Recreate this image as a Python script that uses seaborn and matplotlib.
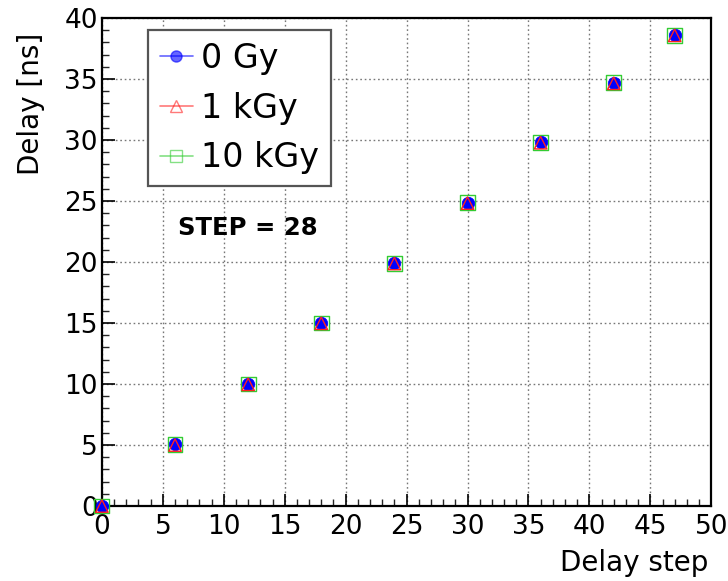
import matplotlib
matplotlib.use("Agg")
import matplotlib.pyplot as plt
from matplotlib.lines import Line2D
from matplotlib.ticker import MultipleLocator
import pandas as pd
import seaborn as sns

# Measured delay versus programmed delay step for three irradiation doses
delay_step = [0, 6, 12, 18, 24, 30, 36, 42, 47]
delay_0gy = [0.0, 5.05, 10.0, 15.0, 19.9, 24.85, 29.8, 34.7, 38.6]
delay_1kgy = [0.0, 5.0, 9.98, 14.98, 19.88, 24.83, 29.78, 34.65, 38.58]
delay_10kgy = [0.0, 5.05, 10.0, 15.0, 19.9, 24.85, 29.8, 34.7, 38.6]
dose_labels = ["0 Gy", "1 kGy", "10 kGy"]

df = pd.concat([
    pd.DataFrame({"step": delay_step, "delay": d, "dose": lab})
    for d, lab in zip([delay_0gy, delay_1kgy, delay_10kgy], dose_labels)
])

sns.set_theme(style="white")
plt.rcParams["font.family"] = ["DejaVu Sans"]
plt.rcParams["text.color"] = "black"

fig = plt.figure(figsize=(7.28, 5.81), dpi=100)
ax = fig.add_axes([0.140, 0.129, 0.837, 0.840])

styles = {
    "10 kGy": dict(color="#33cc33", marker="s", s=115, facecolor="none", lw=1.0, z=3),
    "0 Gy": dict(color="#0000ff", marker="o", s=80, facecolor="#0000ff", lw=0.5, z=4),
    "1 kGy": dict(color="#ff2020", marker="^", s=80, facecolor="none", lw=1.0, z=5),
}
for lab in ["10 kGy", "0 Gy", "1 kGy"]:
    st = styles[lab]
    sns.scatterplot(data=df[df["dose"] == lab], x="step", y="delay", ax=ax,
                    marker=st["marker"], s=st["s"], facecolor=st["facecolor"],
                    edgecolor=st["color"], linewidth=st["lw"], zorder=st["z"],
                    legend=False, clip_on=False)

ax.set_xlim(0, 50)
ax.set_ylim(0, 40)
ax.xaxis.set_major_locator(MultipleLocator(5))
ax.xaxis.set_minor_locator(MultipleLocator(1))
ax.yaxis.set_major_locator(MultipleLocator(5))
ax.yaxis.set_minor_locator(MultipleLocator(1))
ax.tick_params(axis="both", which="major", direction="in", length=9, width=1.2,
               labelsize=19, colors="black", bottom=True, left=True)
ax.tick_params(axis="x", which="major", pad=6)
ax.tick_params(axis="y", which="major", pad=3)
ax.tick_params(axis="both", which="minor", direction="in", length=5, width=1.0,
               bottom=True, left=True)
ax.grid(True, which="major", linestyle=(0, (1.2, 2.0)), color="#777777", linewidth=1.0)
for sp in ax.spines.values():
    sp.set_color("black")
    sp.set_linewidth(1.6)

ax.set_xlabel("Delay step", fontsize=20, color="black")
ax.set_ylabel("Delay [ns]", fontsize=20, color="black")
ax.xaxis.set_label_coords(0.995, -0.088)
ax.xaxis.label.set_horizontalalignment("right")
ax.yaxis.set_label_coords(-0.093, 0.97)
ax.yaxis.label.set_horizontalalignment("right")

handles = [
    Line2D([0], [0], color="#0000ff", lw=1.2, alpha=0.6, marker="o", markersize=8,
           markerfacecolor="#0000ff", markeredgecolor="#0000ff"),
    Line2D([0], [0], color="#ff2020", lw=1.2, alpha=0.6, marker="^", markersize=8,
           markerfacecolor="none", markeredgecolor="#ff2020"),
    Line2D([0], [0], color="#33cc33", lw=1.2, alpha=0.6, marker="s", markersize=8,
           markerfacecolor="none", markeredgecolor="#33cc33"),
]
leg = ax.legend(handles, dose_labels, loc="upper left", bbox_to_anchor=(0.0755, 0.975),
                fontsize=24, frameon=True, fancybox=False, framealpha=1.0,
                edgecolor="#555555", handlelength=1.0, handletextpad=0.25,
                labelspacing=0.5, borderpad=0.35, borderaxespad=0)
leg.get_frame().set_linewidth(1.6)
for t in leg.get_texts():
    t.set_color("black")

ax.text(0.125, 0.570, "STEP = 28", transform=ax.transAxes, fontsize=17.5,
        fontweight="bold", color="black", ha="left", va="center")

fig.savefig("out.png", dpi=100)
